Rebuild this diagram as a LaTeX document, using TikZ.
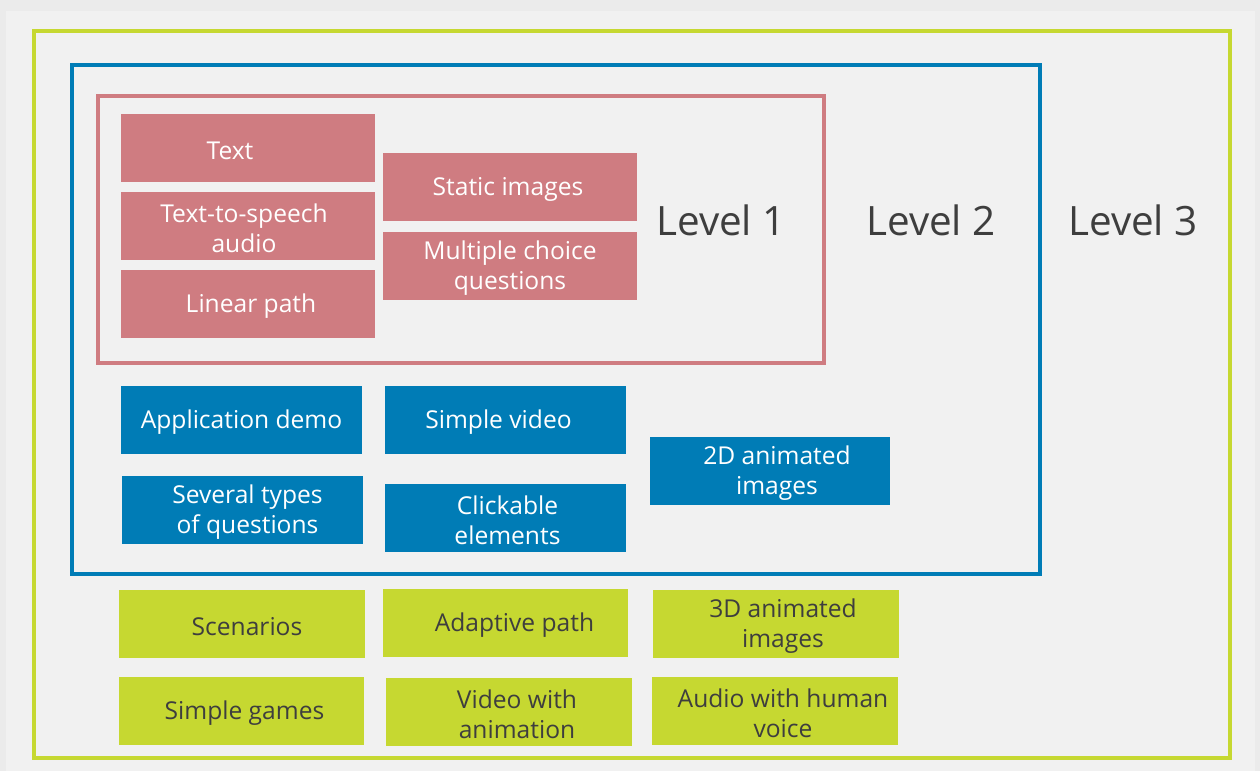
\documentclass[tikz,border=0pt]{standalone}
\usepackage{fontspec}
\setmainfont{Open Sans}
\usetikzlibrary{positioning}
\definecolor{PanelOuter}{HTML}{EBEBEB}
\definecolor{PanelInner}{HTML}{F1F1F1}
\definecolor{LevelOnePink}{HTML}{CF7C81}
\definecolor{LevelTwoBlue}{HTML}{007CB6}
\definecolor{LevelThreeGreen}{HTML}{C6D831}
\definecolor{LabelGrey}{HTML}{3E3E3E}
\tikzset{
    frame/.style={rectangle, draw, line width = 2.2pt, inner sep = 0},
    pinkbox/.style={rectangle, fill=LevelOnePink, minimum width = 5.08cm,
                minimum height = 1.36cm, inner sep = 0},
    bluebox/.style={rectangle, fill=LevelTwoBlue, minimum width = 4.82cm,
                minimum height = 1.36cm, inner sep = 0},
    greenbox/.style={rectangle, fill=LevelThreeGreen, minimum width = 4.92cm,
                minimum height = 1.36cm, inner sep = 0},
    lightstyle/.style={anchor=center, align=center, text=white, yshift=-.05cm,
                font=\fontsize{14}{17}\selectfont},
    darkstyle/.style={anchor=center, align=center, text=LabelGrey, yshift=-.05cm,
                font=\fontsize{14}{17}\selectfont},
    levelstyle/.style={anchor=center, text=LabelGrey,
                font=\fontsize{23}{28}\selectfont},
}
\newcommand{\lightLabel}[3]{%
    \node[lightstyle, xshift=#2] (#1t) at (#1.center) {#3};
}
\newcommand{\darkLabel}[3]{%
    \node[darkstyle, xshift=#2] (#1t) at (#1.center) {#3};
}

\begin{document}
\begin{tikzpicture}[x=0.02cm, y=-0.02cm]
        \fill[PanelOuter] (0,0) rectangle (1260,771);
        \fill[PanelInner] (6,11) rectangle (1255,771);
        \useasboundingbox (0,0) rectangle (1260,771);
        %
        % Frames
        \node[frame, draw=LevelThreeGreen, minimum width = 23.92cm,
              minimum height = 14.54cm] (L3) at (632,394.5) {};
        \node[frame, draw=LevelTwoBlue, line width = 2pt, minimum width = 19.36cm,
              minimum height = 10.18cm] (L2) at (556,319.5) {};
        \node[frame, draw=LevelOnePink, line width = 1.8pt, minimum width = 14.52cm,
              minimum height = 5.34cm] (L1) at (461,229.5) {};
        \node[levelstyle] (L1t) at (721,220) {Level 1};
        \node[levelstyle] (L2t) at (931,220) {Level 2};
        \node[levelstyle] (L3t) at (1133,220) {Level 3};
        %
        %
        % Level 1
        \node[pinkbox] (P1) at (248,148) {};
        \lightLabel{P1}{-0.36cm}{Text}
        \node[pinkbox] (P2) at (248,226) {};
        \lightLabel{P2}{-0.08cm}{Text-to-speech\\audio}
        \node[pinkbox] (P3) at (248,304) {};
        \lightLabel{P3}{0.06cm}{Linear path}
        \node[pinkbox] (P4) at (510,187) {};
        \lightLabel{P4}{-0.04cm}{Static images}
        \node[pinkbox] (P5) at (510,266) {};
        \lightLabel{P5}{0cm}{Multiple choice\\questions}
        %
        %
        % Level 2
        \node[bluebox] (B1) at (241.5,420) {};
        \lightLabel{B1}{0cm}{Application demo}
        \node[bluebox] (B2) at (505.5,420) {};
        \lightLabel{B2}{-0.14cm}{Simple video}
        \node[bluebox] (B3) at (242.5,510) {};
        \lightLabel{B3}{0.1cm}{Several types\\of questions}
        \node[bluebox] (B4) at (505.5,518) {};
        \lightLabel{B4}{0.04cm}{Clickable\\elements}
        \node[bluebox] (B5) at (770,471) {};
        \lightLabel{B5}{0.14cm}{2D animated\\images}
        %
        %
        % Level 3
        \node[greenbox] (G1) at (242,624) {};
        \darkLabel{G1}{0.1cm}{Scenarios}
        \node[greenbox] (G2) at (505.5,623) {};
        \darkLabel{G2}{0.18cm}{Adaptive path}
        \node[greenbox] (G3) at (776,624) {};
        \darkLabel{G3}{0.14cm}{3D animated\\images}
        \node[greenbox] (G4) at (241.5,711) {};
        \darkLabel{G4}{0.06cm}{Simple games}
        \node[greenbox] (G5) at (509,712) {};
        \darkLabel{G5}{0.16cm}{Video with\\animation}
        \node[greenbox] (G6) at (775,711) {};
        \darkLabel{G6}{0.16cm}{Audio with human\\voice}
    \end{tikzpicture}
\end{document}
